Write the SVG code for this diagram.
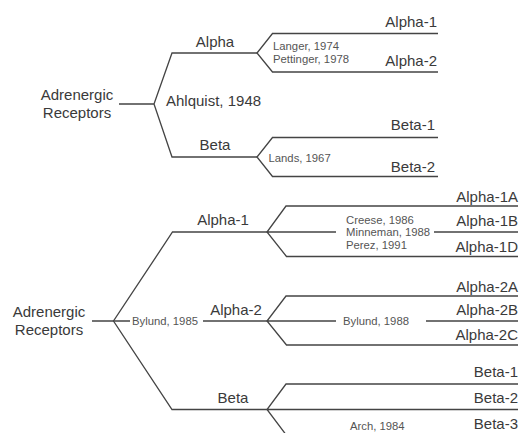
<svg xmlns="http://www.w3.org/2000/svg" width="521" height="433" viewBox="0 0 521 433">
<style>
.ln{fill:none;stroke:#444;stroke-width:1.3;stroke-linejoin:miter}
.lb{font-family:"Liberation Sans",Arial,sans-serif;font-size:15px;fill:#3a3a3a}
.sm{font-family:"Liberation Sans",Arial,sans-serif;font-size:11.3px;fill:#555}
.e{text-anchor:end}
.m{text-anchor:middle}
</style>
<rect width="521" height="433" fill="#fff"/>
<g id="connectors">
<!-- top tree -->
<path class="ln" d="M119,104 H154 M257,53 H172 L154,104 L172,157 H257"/>
<path class="ln" d="M438,33.5 H272.5 L257,53 L272.5,72 H438"/>
<path class="ln" d="M438,137.5 H272.5 L257,157 L272.5,176.5 H438"/>
<!-- bottom tree -->
<path class="ln" d="M92,321 H130 M203,321 H267"/>
<path class="ln" d="M267,232 H172.5 L113.5,321 L172,409.5 H267"/>
<path class="ln" d="M518,206 H286 L267,232 L286.5,256.5 H518 M267,232 H336 M434,232 H518"/>
<path class="ln" d="M518,296 H286 L267,321 L286.5,345 H518 M267,321 H336 M426,321 H518"/>
<path class="ln" d="M518,384 H286 L267,409.5 L287,436 M267,409.5 H518"/>
</g>
<g id="top-root"><text class="lb m" x="77" y="99.5">Adrenergic</text><text class="lb m" x="77" y="117.5">Receptors</text></g>
<g id="top-alpha"><text class="lb m" x="215" y="47">Alpha</text></g>
<g id="top-beta"><text class="lb m" x="215" y="150">Beta</text></g>
<g id="top-ahlquist"><text class="lb" x="166" y="106">Ahlquist, 1948</text></g>
<g id="top-alpha1"><text class="lb e" x="437" y="27">Alpha-1</text></g>
<g id="top-alpha2"><text class="lb e" x="437" y="66">Alpha-2</text></g>
<g id="top-langer"><text class="sm" x="273" y="49.5">Langer, 1974</text><text class="sm" x="273" y="63">Pettinger, 1978</text></g>
<g id="top-beta1"><text class="lb e" x="435" y="130">Beta-1</text></g>
<g id="top-beta2"><text class="lb e" x="435" y="171.5">Beta-2</text></g>
<g id="top-lands"><text class="sm" x="268.5" y="161.5">Lands, 1967</text></g>
<g id="bot-root"><text class="lb m" x="49" y="317">Adrenergic</text><text class="lb m" x="49" y="335">Receptors</text></g>
<g id="bot-bylund85"><text class="sm" x="132" y="325">Bylund, 1985</text></g>
<g id="bot-alpha1"><text class="lb m" x="223" y="225">Alpha-1</text></g>
<g id="bot-alpha2"><text class="lb m" x="236" y="314.5">Alpha-2</text></g>
<g id="bot-beta"><text class="lb m" x="233" y="403">Beta</text></g>
<g id="bot-alpha1a"><text class="lb e" x="518" y="201.5">Alpha-1A</text></g>
<g id="bot-alpha1b"><text class="lb e" x="518" y="226">Alpha-1B</text></g>
<g id="bot-alpha1d"><text class="lb e" x="518" y="251.5">Alpha-1D</text></g>
<g id="bot-refs1"><text class="sm" x="346" y="223.5">Creese, 1986</text><text class="sm" x="346" y="236">Minneman, 1988</text><text class="sm" x="346" y="248.5">Perez, 1991</text></g>
<g id="bot-alpha2a"><text class="lb e" x="518" y="291.5">Alpha-2A</text></g>
<g id="bot-alpha2b"><text class="lb e" x="518" y="315">Alpha-2B</text></g>
<g id="bot-alpha2c"><text class="lb e" x="518" y="340">Alpha-2C</text></g>
<g id="bot-bylund88"><text class="sm" x="343" y="324.5">Bylund, 1988</text></g>
<g id="bot-beta1"><text class="lb e" x="518" y="376.5">Beta-1</text></g>
<g id="bot-beta2"><text class="lb e" x="518" y="403">Beta-2</text></g>
<g id="bot-beta3"><text class="lb e" x="518" y="428.5">Beta-3</text></g>
<g id="bot-arch"><text class="sm" x="350" y="429.5">Arch, 1984</text></g>
</svg>
